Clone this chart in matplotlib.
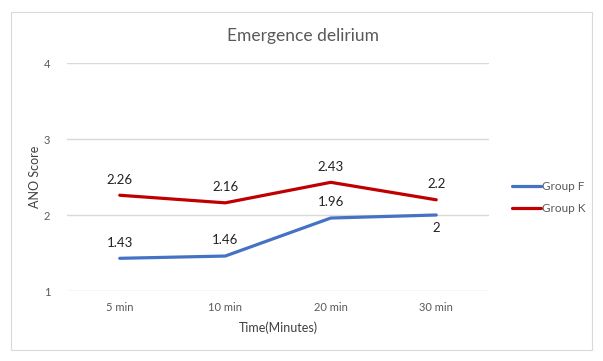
import numpy as np
import matplotlib.pyplot as plt
from matplotlib.patches import Rectangle

plt.rcParams['font.family'] = ['Lato', 'DejaVu Sans']

times = ['5 min', '10 min', '20 min', '30 min']
group_f = [1.43, 1.46, 1.96, 2]
group_k = [2.26, 2.16, 2.43, 2.2]

fig = plt.figure(figsize=(6.03, 3.61), dpi=100)
fig.patches.append(Rectangle((11/603, 1-350/361), 581/603, 338/361,
                             transform=fig.transFigure, fill=False,
                             edgecolor='#d9d9d9', linewidth=0.8))
ax = fig.add_axes([67/603, 1-291/361, 422/603, 228/361])

x = np.arange(len(times))
ax.plot(x, group_f, color='#4472C4', lw=2.3, label='Group F', solid_capstyle='round')
ax.plot(x, group_k, color='#C00000', lw=2.3, label='Group K', solid_capstyle='round')

# etiquettes de valeurs
for i, v in enumerate(group_k):
    ax.annotate(f'{v:g}', (x[i], v), xytext=(0, 7), textcoords='offset points',
                ha='center', va='bottom', fontsize=9.5, color='#222222')
for i, v in enumerate(group_f):
    off = -5 if i == 3 else 7
    ax.annotate(f'{v:g}', (x[i], v), xytext=(0, off), textcoords='offset points',
                ha='center', va='top' if off < 0 else 'bottom', fontsize=9.5, color='#222222')

ax.set_xlim(-0.5, 3.5)
ax.set_ylim(1, 4)
ax.set_yticks([1, 2, 3, 4])
ax.set_xticks(x)
ax.set_xticklabels(times)
ax.tick_params(length=0, labelsize=8, colors='#595959', pad=8)
ax.tick_params(axis='y', pad=12)
ax.grid(axis='y', color='#d9d9d9', lw=1)
ax.set_axisbelow(True)
for s in ax.spines.values():
    s.set_visible(False)

ax.set_xlabel('Time(Minutes)', fontsize=9, color='#404040', labelpad=6)
ax.set_ylabel('ANO Score', fontsize=9, color='#404040', labelpad=2)
fig.text(303/603, 1 - 36/361, 'Emergence delirium',
         ha='center', va='center', fontsize=12.5, color='#595959')

ax.legend(loc='center left', bbox_to_anchor=(1.03, 0.41), frameon=False,
          fontsize=8.5, handlelength=2.4, handletextpad=0.1, labelspacing=0.95,
          labelcolor='#595959')

fig.savefig('out.png', dpi=100)
